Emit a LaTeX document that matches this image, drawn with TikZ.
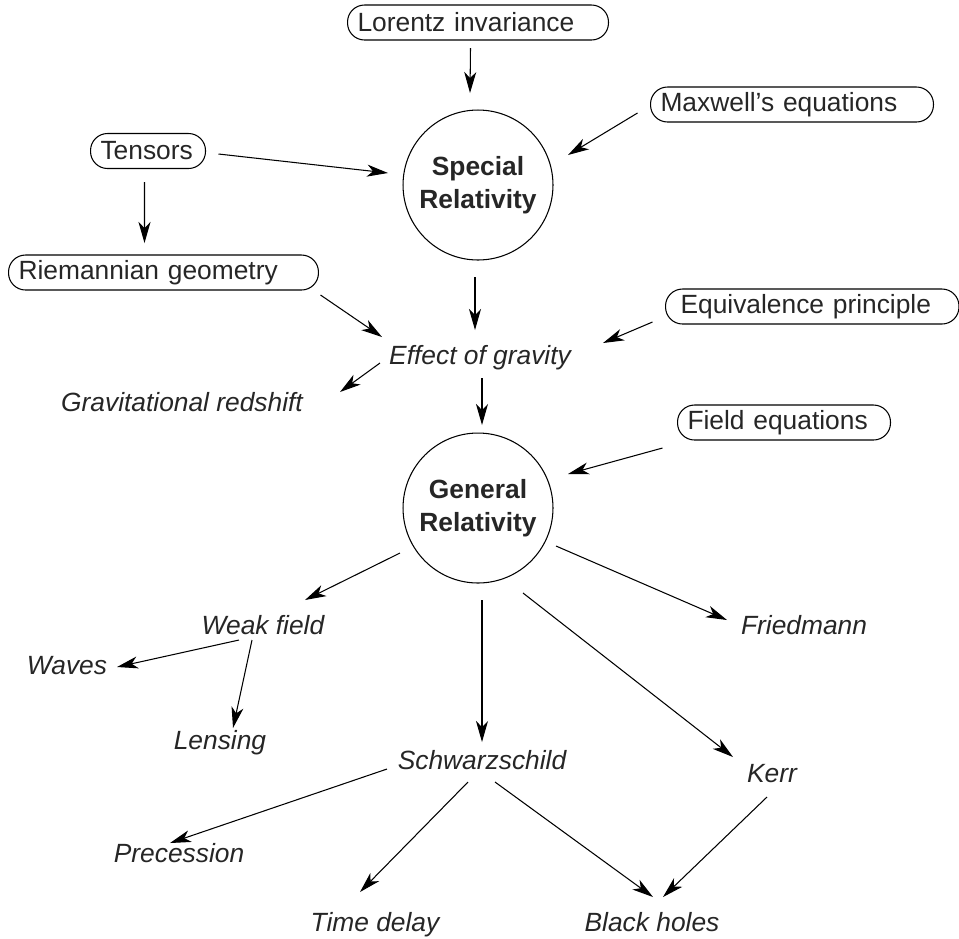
\documentclass[tikz,border=0pt]{standalone}
\usepackage{fontspec}
\setmainfont{Liberation Sans}
\usetikzlibrary{arrows.meta}

\tikzset{
  box/.style={draw, rounded corners=0.34cm, minimum height=0.7cm, inner xsep=0.2cm,
    inner ysep=0pt, anchor=west, align=left, font=\fontsize{15}{18}\selectfont},
  hub/.style={circle, draw, minimum size=3cm, inner sep=0pt, align=center,
    font=\fontsize{15}{19}\selectfont\bfseries},
  leaf/.style={anchor=base, inner sep=0pt, font=\fontsize{15}{18}\selectfont\itshape},
  arr/.style={-{Stealth[length=0.42cm, width=0.24cm, inset=0.12cm]}},
}

\begin{document}
\begin{tikzpicture}[x=0.02cm, y=-0.02cm, line width=0.6pt, text=black!85]
  \useasboundingbox (0,0) rectangle (959,938);

  % --- inputs (boxes) ---
  \node[box, text width=4.82cm] (lorentz) at (347,22.5) {Lorentz invariance};
  \node[box, text width=5.26cm] (maxwell) at (650,104.5) {Maxwell's equations};
  \node[box, text width=1.9cm]  (tensors) at (90,151) {Tensors};
  \node[box, text width=5.8cm]  (riemann) at (8,272.5) {Riemannian geometry};
  \node[box, text width=5.27cm, inner xsep=0.3cm] (equiv) at (665,306.5) {Equivalence principle};
  \node[box, text width=3.86cm] (field) at (677,422.5) {Field equations};

  % --- theories ---
  \node[hub] (sr) at (478,185) {Special\\Relativity};
  \node[hub] (gr) at (478,508) {General\\Relativity};

  % --- results ---
  \node[leaf] (effect) at (480,364.5) {Effect of gravity};
  \node[leaf] (redshift) at (182,411.5) {Gravitational redshift};
  \node[leaf] (weak) at (263,634.5) {Weak field};
  \node[leaf] (waves) at (67,674.5) {Waves};
  \node[leaf] (lensing) at (220,749.5) {Lensing};
  \node[leaf] (friedmann) at (804,634.5) {Friedmann};
  \node[leaf] (schwarz) at (482,769.5) {Schwarzschild};
  \node[leaf] (kerr) at (772,782.5) {Kerr};
  \node[leaf] (precession) at (179,862.5) {Precession};
  \node[leaf] (timedelay) at (375,931.5) {Time delay};
  \node[leaf] (blackholes) at (652,931.5) {Black holes};

  % --- towards special relativity ---
  \draw[arr] ([shift={(-7.5,25.5)}]lorentz.center) -- ([shift={(-8,-92)}]sr.center);
  \draw[arr] ([shift={(-154.5,8.5)}]maxwell.center) -- ([shift={(90,-30)}]sr.center);
  \draw[arr] ([shift={(70.5,3)}]tensors.center) -- ([shift={(-90,-12)}]sr.center);
  \draw[arr] ([shift={(-3.5,31)}]tensors.center) -- ([shift={(-19,-29.5)}]riemann.center);

  % --- gravity ---
  \draw[arr] ([shift={(-3,92)}]sr.center) -- ([shift={(-5,-34.5)}]effect.base);
  \draw[arr] ([shift={(157,22.5)}]riemann.center) -- ([shift={(-98,-27.5)}]effect.base);
  \draw[arr] ([shift={(-159.75,15.5)}]equiv.center) -- ([shift={(123,-21.5)}]effect.base);
  \draw[arr] ([shift={(-100,-1.5)}]effect.base) -- ([shift={(158,-19.5)}]redshift.base);
  \draw[arr] ([shift={(2,13.5)}]effect.base) -- ([shift={(4,-83)}]gr.center);
  \draw[arr] ([shift={(-121.5,25.5)}]field.center) -- ([shift={(90,-34)}]gr.center);

  % --- solutions ---
  \draw[arr] ([shift={(-78,45)}]gr.center) -- ([shift={(42,-34.5)}]weak.base);
  \draw[arr] ([shift={(4,92)}]gr.center) -- ([shift={(0,-27.5)}]schwarz.base);
  \draw[arr] ([shift={(78,38)}]gr.center) -- ([shift={(-77,-14.5)}]friedmann.base);
  \draw[arr] ([shift={(45,85)}]gr.center) -- ([shift={(-39,-25.5)}]kerr.base);
  \draw[arr] ([shift={(-24,5.5)}]weak.base) -- ([shift={(50,-7.5)}]waves.base);
  \draw[arr] ([shift={(-11,5.5)}]weak.base) -- ([shift={(13,-21.5)}]lensing.base);
  \draw[arr] ([shift={(-95,-0.5)}]schwarz.base) -- ([shift={(-9,-19.5)}]precession.base);
  \draw[arr] ([shift={(-14,12.5)}]schwarz.base) -- ([shift={(-15,-39.5)}]timedelay.base);
  \draw[arr] ([shift={(13,12.5)}]schwarz.base) -- ([shift={(1,-34.5)}]blackholes.base);
  \draw[arr] ([shift={(-5,14.5)}]kerr.base) -- ([shift={(11,-34.5)}]blackholes.base);
\end{tikzpicture}
\end{document}
